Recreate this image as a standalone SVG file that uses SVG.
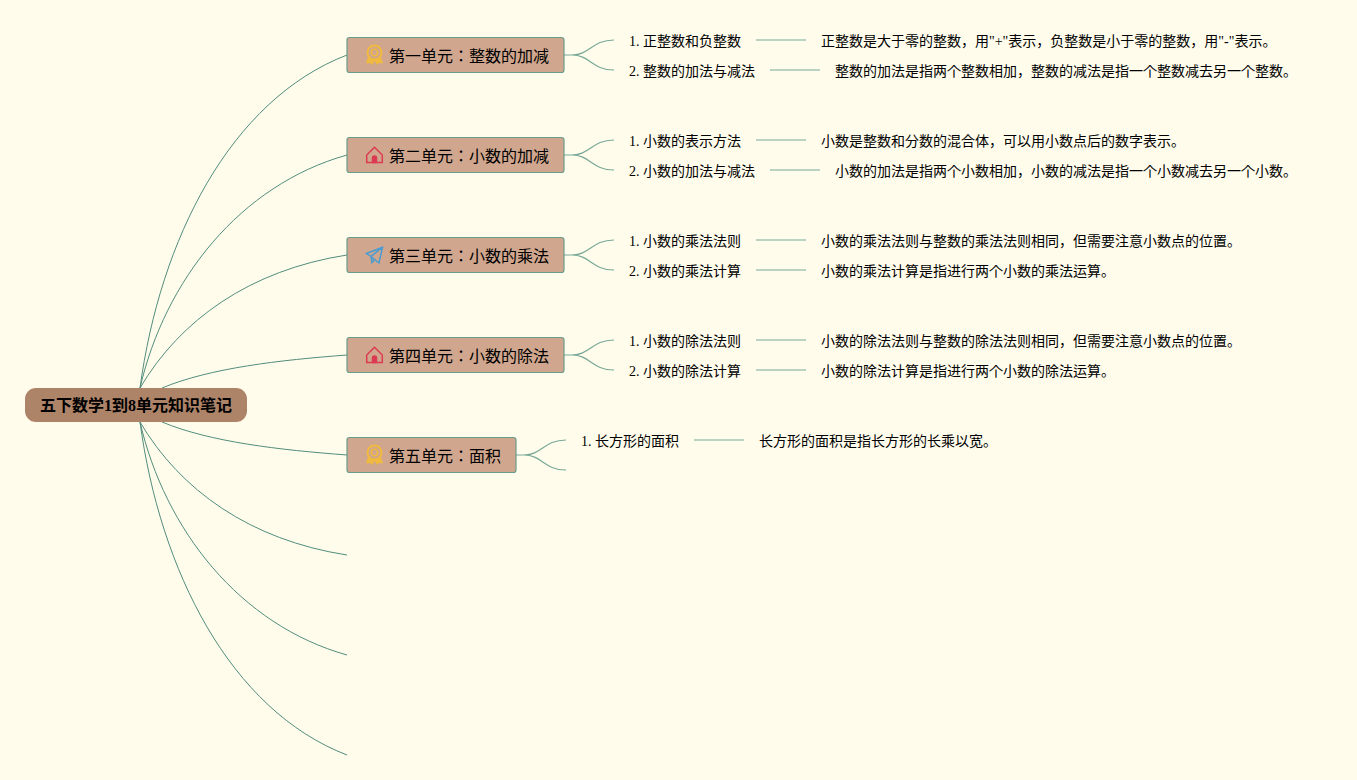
<svg xmlns="http://www.w3.org/2000/svg" width="1357" height="780" viewBox="0 0 1357 780">
<style>
text{font-family:"Liberation Serif","Noto Sans CJK JP",serif;fill:#000}
.t{font-size:14px}
.u{font-size:16px}
.r{font-size:16px;font-weight:bold}
.n{fill:#d0a78e;stroke:#6a9c8c;stroke-width:1.200}
.c1{fill:none;stroke:#528d7c;stroke-width:1}
.c2{fill:none;stroke:#79a998;stroke-width:1.200}
.c3{fill:none;stroke:#a3c3b2;stroke-width:1.500}
.i{fill:none;stroke-width:1.500}
</style>
<defs>
<g id="medal" class="i" stroke="#f0b93f"><circle cx="0" cy="-2.500" r="7" stroke-width="2"/><circle cx="0" cy="-2.500" r="3.200"/><path d="M-6 2-8 8-4.500 7.500-2.500 9.500 0 5 2.500 9.500 4.500 7.500 8 8 6 2 0 5Z" fill="#f0b93f" stroke-width="1"/></g>
<g id="home" class="i" stroke="#dc3a52"><path d="M-7.800 0 0-7.800 7.800 0M-7.800 0V7.500H7.800V0"/><path d="M-2 7.500V3a2 2 0 0 1 4 0V7.500Z" fill="#dc3a52"/></g>
<g id="plane" class="i" stroke="#4a9bd0"><path d="M8-7.800-8-1.500-3.500 1.500 4.500 8ZM8-7.800-3.500 1.500-2.500 7.500 0 4.500"/></g>
</defs>
<rect width="1357" height="780" fill="#fffcec"/>
<g id="connectors">
<path class="c1" d="M140 388C160 240 230 100 347 55"/>
<path class="c1" d="M140 388C165 280 240 185 347 155"/>
<path class="c1" d="M140 388C180 320 250 270 347 255"/>
<path class="c1" d="M162 388C210 368 280 360 347 355"/>
<path class="c1" d="M162 422C210 442 280 450 347 455"/>
<path class="c1" d="M140 422C180 490 250 540 347 555"/>
<path class="c1" d="M140 422C165 530 240 625 347 655"/>
<path class="c1" d="M140 422C160 570 230 710 347 755"/>
<g id="c-u1"><path class="c2" d="M564 55H572C590 55 592 40 614 40M564 55H572C590 55 592 70 614 70"/><path class="c3" d="M756 40H806M770 70H820"/></g>
<g id="c-u2"><path class="c2" d="M564 155H572C590 155 592 140 614 140M564 155H572C590 155 592 170 614 170"/><path class="c3" d="M756 140H806M770 170H820"/></g>
<g id="c-u3"><path class="c2" d="M564 255H572C590 255 592 240 614 240M564 255H572C590 255 592 270 614 270"/><path class="c3" d="M756 240H806M756 270H806"/></g>
<g id="c-u4"><path class="c2" d="M564 355H572C590 355 592 340 614 340M564 355H572C590 355 592 370 614 370"/><path class="c3" d="M756 340H806M756 370H806"/></g>
<g id="c-u5"><path class="c2" d="M516 455H524C542 455 544 440 566 440M516 455H524C542 455 544 470 566 470"/><path class="c3" d="M694 440H744"/></g>
</g>
<g id="root"><rect x="25" y="388" width="222" height="34" rx="11" fill="#ae8469"/><text class="r" x="136" y="411" text-anchor="middle">五下数学1到8单元知识笔记</text></g>
<g id="unit1"><rect class="n" x="347" y="37.500" width="217" height="35" rx="2.500"/><use href="#medal" x="374.500" y="55"/><text class="u" x="389" y="61.500">第一单元：整数的加减</text></g>
<g id="unit2"><rect class="n" x="347" y="137.500" width="217" height="35" rx="2.500"/><use href="#home" x="374.500" y="155"/><text class="u" x="389" y="161.500">第二单元：小数的加减</text></g>
<g id="unit3"><rect class="n" x="347" y="237.500" width="217" height="35" rx="2.500"/><use href="#plane" x="374.500" y="255"/><text class="u" x="389" y="261.500">第三单元：小数的乘法</text></g>
<g id="unit4"><rect class="n" x="347" y="337.500" width="217" height="35" rx="2.500"/><use href="#home" x="374.500" y="355"/><text class="u" x="389" y="361.500">第四单元：小数的除法</text></g>
<g id="unit5"><rect class="n" x="347" y="437.500" width="169" height="35" rx="2.500"/><use href="#medal" x="374.500" y="455"/><text class="u" x="389" y="461.500">第五单元：面积</text></g>
<g id="n1-1"><text class="t" x="629" y="46">1. 正整数和负整数</text></g>
<g id="d1-1"><text class="t" x="821" y="46">正整数是大于零的整数，用"+"表示，负整数是小于零的整数，用"-"表示。</text></g>
<g id="n1-2"><text class="t" x="629" y="76">2. 整数的加法与减法</text></g>
<g id="d1-2"><text class="t" x="835" y="76">整数的加法是指两个整数相加，整数的减法是指一个整数减去另一个整数。</text></g>
<g id="n2-1"><text class="t" x="629" y="146">1. 小数的表示方法</text></g>
<g id="d2-1"><text class="t" x="821" y="146">小数是整数和分数的混合体，可以用小数点后的数字表示。</text></g>
<g id="n2-2"><text class="t" x="629" y="176">2. 小数的加法与减法</text></g>
<g id="d2-2"><text class="t" x="835" y="176">小数的加法是指两个小数相加，小数的减法是指一个小数减去另一个小数。</text></g>
<g id="n3-1"><text class="t" x="629" y="246">1. 小数的乘法法则</text></g>
<g id="d3-1"><text class="t" x="821" y="246">小数的乘法法则与整数的乘法法则相同，但需要注意小数点的位置。</text></g>
<g id="n3-2"><text class="t" x="629" y="276">2. 小数的乘法计算</text></g>
<g id="d3-2"><text class="t" x="821" y="276">小数的乘法计算是指进行两个小数的乘法运算。</text></g>
<g id="n4-1"><text class="t" x="629" y="346">1. 小数的除法法则</text></g>
<g id="d4-1"><text class="t" x="821" y="346">小数的除法法则与整数的除法法则相同，但需要注意小数点的位置。</text></g>
<g id="n4-2"><text class="t" x="629" y="376">2. 小数的除法计算</text></g>
<g id="d4-2"><text class="t" x="821" y="376">小数的除法计算是指进行两个小数的除法运算。</text></g>
<g id="n5-1"><text class="t" x="581" y="446">1. 长方形的面积</text></g>
<g id="d5-1"><text class="t" x="759" y="446">长方形的面积是指长方形的长乘以宽。</text></g>
</svg>
